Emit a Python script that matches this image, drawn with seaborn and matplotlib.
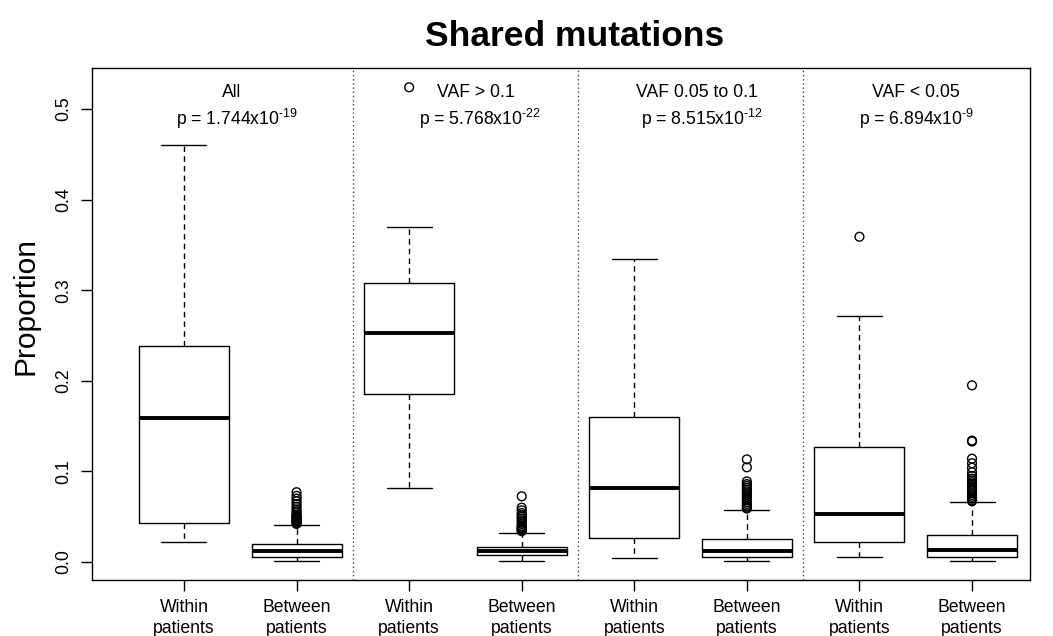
import matplotlib
matplotlib.use("Agg")
import matplotlib.pyplot as plt
import numpy as np
import pandas as pd
import seaborn as sns

# ---------------- data ----------------
group_labels = ["Within\npatients", "Between\npatients"] * 4
panel_titles = ["All", "VAF > 0.1", "VAF 0.05 to 0.1", "VAF < 0.05"]
p_mantissa = ["1.744", "5.768", "8.515", "6.894"]
p_exponent = ["-19", "-22", "-12", "-9"]

whisker_low = [0.0217, 0.0015, 0.082, 0.0010, 0.0048, 0.0010, 0.0059, 0.0010]
quart1 = [0.0427, 0.0059, 0.185, 0.0077, 0.026, 0.0052, 0.0224, 0.0052]
medians = [0.159, 0.0121, 0.253, 0.0125, 0.0813, 0.0125, 0.053, 0.0132]
quart3 = [0.238, 0.0199, 0.308, 0.0169, 0.160, 0.0254, 0.1266, 0.0298]
whisker_high = [0.460, 0.0408, 0.370, 0.0324, 0.334, 0.0574, 0.271, 0.0659]

outliers_1 = []
outliers_2 = [0.042, 0.043, 0.044, 0.045, 0.046, 0.047, 0.048, 0.049, 0.050,
              0.051, 0.052, 0.054, 0.056, 0.058, 0.061, 0.064, 0.067, 0.070,
              0.073, 0.077]
outliers_3 = [0.524]
outliers_4 = [0.034, 0.035, 0.036, 0.037, 0.038, 0.039, 0.040, 0.042, 0.044,
              0.046, 0.048, 0.050, 0.052, 0.054, 0.057, 0.060, 0.0725]
outliers_5 = []
outliers_6 = [0.059, 0.060, 0.062, 0.064, 0.066, 0.068, 0.070, 0.072, 0.074,
              0.076, 0.078, 0.080, 0.082, 0.084, 0.086, 0.089, 0.1045, 0.1133]
outliers_7 = [0.359]
outliers_8 = [0.067, 0.068, 0.070, 0.072, 0.074, 0.076, 0.078, 0.080, 0.082,
              0.084, 0.086, 0.088, 0.090, 0.092, 0.095, 0.099, 0.104, 0.109,
              0.114, 0.133, 0.134, 0.195]
all_outliers = [outliers_1, outliers_2, outliers_3, outliers_4,
                outliers_5, outliers_6, outliers_7, outliers_8]

# ---------------- style ----------------
sns.set_style("ticks")
plt.rcParams["font.family"] = ["Liberation Sans", "DejaVu Sans"]
plt.rcParams["mathtext.fontset"] = "custom"
plt.rcParams["mathtext.rm"] = "Liberation Sans"
plt.rcParams["mathtext.it"] = "Liberation Sans:italic"
plt.rcParams["mathtext.bf"] = "Liberation Sans:bold"
plt.rcParams["text.color"] = "black"
plt.rcParams["axes.labelcolor"] = "black"
plt.rcParams["xtick.color"] = "black"
plt.rcParams["ytick.color"] = "black"

fig = plt.figure(figsize=(10.53, 6.36), dpi=100)
ax = fig.add_axes([92 / 1053, 1 - 580 / 636, (1030 - 92) / 1053, (580 - 68) / 636])

positions = np.arange(1, len(group_labels) + 1)
stats = []
for i in range(len(group_labels)):
    stats.append(dict(med=medians[i], q1=quart1[i], q3=quart3[i],
                      whislo=whisker_low[i], whishi=whisker_high[i],
                      fliers=[], label=group_labels[i]))

ax.bxp(stats, positions=positions, widths=0.8, showfliers=False,
       patch_artist=False,
       boxprops=dict(color="black", linewidth=1.0),
       medianprops=dict(color="black", linewidth=2.8, solid_capstyle="butt"),
       whiskerprops=dict(color="black", linewidth=1.0, linestyle=(0, (4, 3))),
       capprops=dict(color="black", linewidth=1.0),
       capwidths=0.4)

rows = []
for pos, vals in zip(positions, all_outliers):
    for v in vals:
        rows.append({"pos": pos, "value": v})
flier_df = pd.DataFrame(rows)
sns.scatterplot(data=flier_df, x="pos", y="value", marker="o", s=40,
                facecolor="none", edgecolor="black", linewidth=1.0,
                legend=False, ax=ax, zorder=3)
for coll in ax.collections:
    coll.set_facecolor("none")
    coll.set_edgecolor("black")

# panel separators
for xsep in [2.5, 4.5, 6.5]:
    ax.axvline(xsep, color="#444444", linestyle=(0, (1, 2)), linewidth=1.0)

# panel annotations
title_x = [1.426, 3.594, 5.557, 7.50]
p_x = [1.47, 3.63, 5.60, 7.51]
for i in range(4):
    ax.text(title_x[i], 0.518, panel_titles[i], ha="center", va="center",
            fontsize=12.7, color="black")
    ax.text(p_x[i], 0.489,
            "p = " + p_mantissa[i] + "x10$^{\\text{" + p_exponent[i] + "}}$",
            ha="center", va="center", fontsize=12.7, color="black")

ax.set_xlim(0.183, 8.515)
ax.set_ylim(-0.0199, 0.5453)
ax.set_xticks(positions)
ax.set_xticklabels(group_labels, fontsize=12.7, linespacing=1.25)
ax.set_yticks([0.0, 0.1, 0.2, 0.3, 0.4, 0.5])
ax.set_yticklabels(["0.0", "0.1", "0.2", "0.3", "0.4", "0.5"], fontsize=12.7,
                   rotation=90, va="center")
ax.tick_params(axis="both", length=8, width=1.0, color="black",
               labelcolor="black", pad=6)
ax.set_xlabel("")
ax.set_ylabel("")
for sp in ax.spines.values():
    sp.set_visible(True)
    sp.set_color("black")
    sp.set_linewidth(1.0)

fig.text(26 / 1053, 1 - 306 / 636, "Proportion", rotation=90,
         ha="center", va="center", fontsize=21.5, color="black")
fig.text(575 / 1053, 1 - 36 / 636, "Shared mutations", ha="center",
         va="center", fontsize=25.5, fontweight="bold", color="black")

fig.savefig("out.png", dpi=100)
